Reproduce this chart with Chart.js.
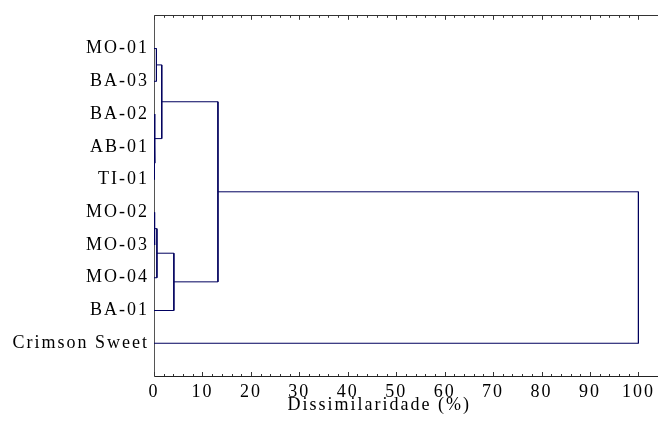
<!DOCTYPE html>
<html><head><meta charset="utf-8">
<script src="https://cdn.jsdelivr.net/npm/chart.js@4/dist/chart.umd.min.js"></script>
<style>html,body{margin:0;padding:0;background:#fff}</style>
</head><body>
<canvas id="c" width="660" height="434"></canvas>
<script>
// Leaves, top to bottom
const leaves = ['MO-01','BA-03','BA-02','AB-01','TI-01','MO-02','MO-03','MO-04','BA-01','Crimson Sweet'];
// Merges: leaves are nodes 0..9, each merge creates node 10, 11, ...
const mergeA = [0, 3, 2, 10, 5, 14, 15, 13, 17];
const mergeB = [1, 4, 11, 12, 6, 7, 8, 16, 9];
const mergeHeight = [0.5, 0.1, 0.2, 1.6, 0.2, 0.6, 4.1, 13.2, 100];
// Axis tick labels
const xTicks = [0, 10, 20, 30, 40, 50, 60, 70, 80, 90, 100];
const xMinorStep = 2;
const xAxisTitle = 'Dissimilaridade (%)';

const LINE = '#00005e';
const FONT = 'Liberation Serif';
const SPACING = '2px';

// Build node positions
const nodeY = leaves.map((_, i) => i + 1);
const nodeH = leaves.map(() => 0);
const datasets = [];
mergeA.forEach((a, k) => {
  const b = mergeB[k], h = mergeHeight[k];
  datasets.push({
    data: [
      {x: nodeH[a], y: nodeY[a]},
      {x: h, y: nodeY[a]},
      {x: h, y: nodeY[b]},
      {x: nodeH[b], y: nodeY[b]}
    ],
    showLine: true, borderColor: LINE, borderWidth: 1, pointRadius: 0,
    tension: 0, fill: false
  });
  nodeY.push((nodeY[a] + nodeY[b]) / 2);
  nodeH.push(h);
});

const spacingPlugin = {
  id: 'spacing',
  beforeLayout(chart) { chart.ctx.letterSpacing = SPACING; },
  beforeDraw(chart) { chart.ctx.letterSpacing = SPACING; }
};

const tickPlugin = {
  id: 'innerTicks',
  afterDraw(chart) {
    const ctx = chart.ctx, x = chart.scales.x, area = chart.chartArea;
    ctx.save();
    ctx.strokeStyle = '#333';
    ctx.lineWidth = 1;
    for (let v = xTicks[0]; v <= xTicks[xTicks.length - 1] + 1e-9; v += xMinorStep) {
      const px = Math.round(x.getPixelForValue(v)) + 0.5;
      const len = xTicks.includes(v) ? 4 : 2;
      ctx.beginPath();
      ctx.moveTo(px, area.bottom); ctx.lineTo(px, area.bottom - len);
      ctx.moveTo(px, area.top); ctx.lineTo(px, area.top + len);
      ctx.stroke();
    }
    // axis title
    ctx.letterSpacing = SPACING;
    ctx.fillStyle = '#000';
    ctx.font = '18px "' + FONT + '"';
    ctx.textAlign = 'center';
    ctx.textBaseline = 'middle';
    ctx.fillText(xAxisTitle, x.getPixelForValue(46.5), 405);
    ctx.restore();
  }
};

new Chart(document.getElementById('c'), {
  type: 'scatter',
  data: { datasets },
  options: {
    responsive: false,
    animation: false,
    events: [],
    layout: { padding: { top: 13, right: 1, left: 0, bottom: 0 } },
    plugins: { legend: { display: false }, tooltip: { enabled: false } },
    scales: {
      x: {
        type: 'linear', position: 'bottom', min: 0, max: 104,
        afterBuildTicks: s => { s.ticks = xTicks.map(v => ({value: v})); },
        afterFit: s => { s.height = 58; },
        grid: { display: false, drawTicks: false },
        border: { display: true, color: '#222', width: 1 },
        ticks: { color: '#000', font: { family: FONT, size: 18 }, padding: 5, maxRotation: 0, autoSkip: false }
      },
      x2: {
        type: 'linear', position: 'top', min: 0, max: 104,
        afterFit: s => { s.height = 0; },
        grid: { display: false, drawTicks: false },
        border: { display: true, color: '#333', width: 1 },
        ticks: { display: false }
      },
      y: {
        type: 'linear', min: 0, max: 11, reverse: true,
        afterBuildTicks: s => { s.ticks = leaves.map((_, i) => ({value: i + 1})); },
        afterFit: s => { s.width = 154; },
        grid: { display: false, drawTicks: false },
        border: { display: true, color: '#555', width: 1 },
        ticks: { color: '#000', font: { family: FONT, size: 18 }, padding: 5, autoSkip: false,
          callback: v => leaves[v - 1] }
      }
    }
  },
  plugins: [spacingPlugin, tickPlugin]
});
</script>
</body></html>
